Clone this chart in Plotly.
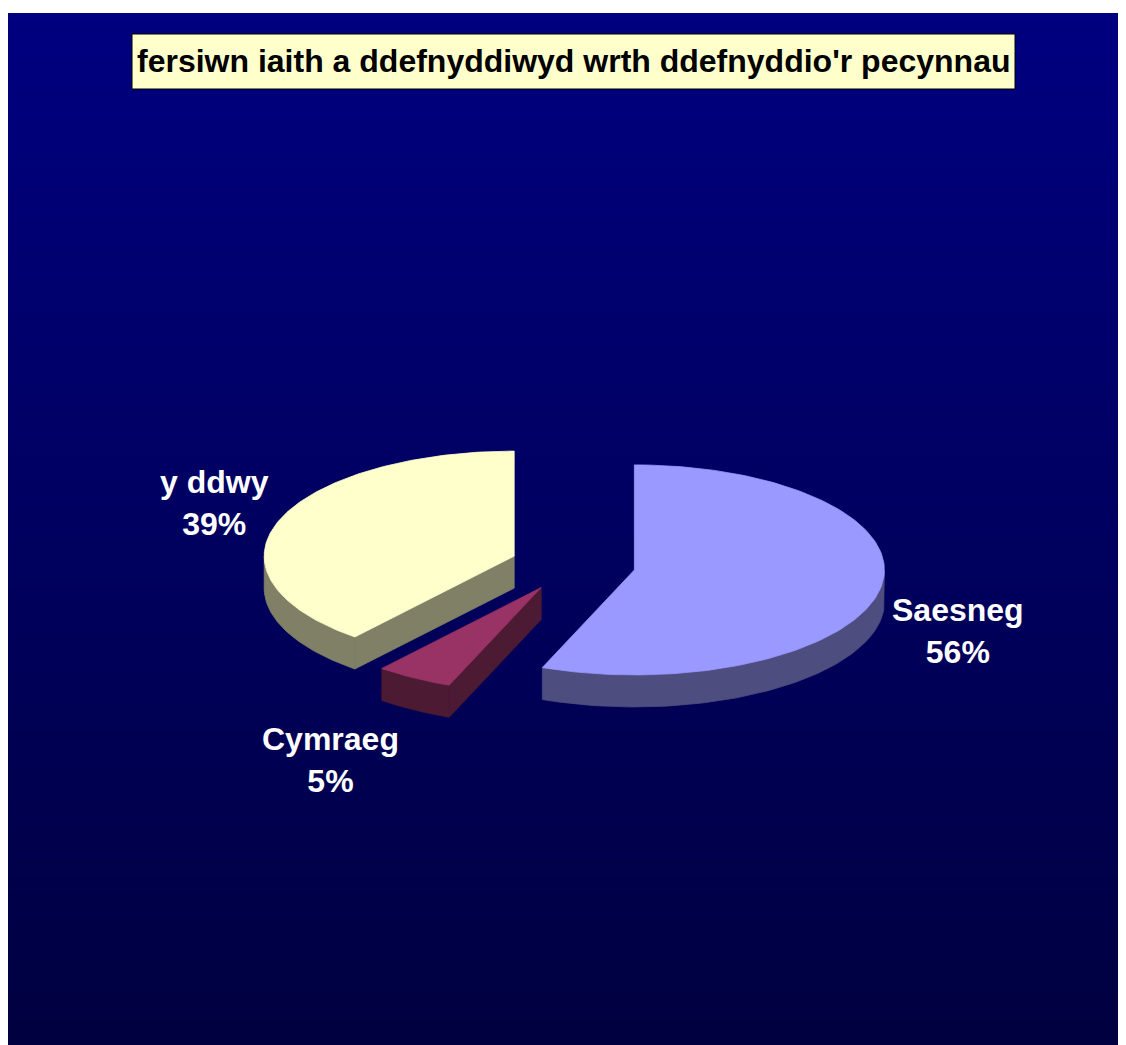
import numpy as np
import plotly.graph_objects as go

# slice data, clockwise from 12 o'clock
labels = ["Saesneg", "Cymraeg", "y ddwy"]
values = [56, 5, 39]
title_text = "fersiwn iaith a ddefnyddiwyd wrth ddefnyddio'r pecynnau"

top_colors = ["#9999FF", "#993366", "#FFFFCC"]
side_colors = ["#4D4D80", "#4D1A33", "#808066"]

# 3D pie geometry (radius = 1 unit)
TILT = 0.42
DEPTH = 0.128
EXPLODE = 0.25
PX = 250.0  # pixels per unit

# page offset from the default body margin
OFF = 8
W, H = 1110, 1037
M_L, M_R, M_T, M_B = 0, 0, 5, 0
CX_PX, CY_PX = 573, 565  # pie centre on the page

left = OFF + M_L
right = OFF + W - M_R
top = OFF + M_T
bottom = OFF + H - M_B
x_range = [-(CX_PX - left) / PX, (right - CX_PX) / PX]
y_range = [-(bottom - CY_PX) / PX, (CY_PX - top) / PX]


def px_x(p):
    return (p - left) / (right - left)


def px_y(p):
    return (bottom - p) / (bottom - top)


fig = go.Figure()

# gradient background (navy fading to dark towards the page bottom)
grad_lo = -(1045 - CY_PX) / PX
bg_y = np.linspace(y_range[0] - 0.2, y_range[1] + 0.2, 80)
bg_z = [[v, v] for v in bg_y]
fig.add_trace(go.Heatmap(
    x=[x_range[0] - 0.5, x_range[1] + 0.5], y=bg_y, z=bg_z,
    zmin=grad_lo, zmax=y_range[1],
    colorscale=[[0, "#000040"], [1, "#000080"]],
    showscale=False, zsmooth="best", hoverinfo="skip",
))


def arc(ox, oy, a0, a1, dz=0.0, n=80):
    a = np.radians(np.linspace(a0, a1, n))
    return ox + np.cos(a), oy + TILT * np.sin(a) - dz


def poly(xs, ys, color, name):
    fig.add_trace(go.Scatter(
        x=xs, y=ys, mode="lines", fill="toself", fillcolor=color,
        line=dict(color=color, width=0.8), hoverinfo="skip",
        showlegend=False, name=name,
    ))


total = float(sum(values))
bounds = []
cum = 0.0
for v in values:
    hi = 90 - 360 * cum / total
    cum += v
    lo = 90 - 360 * cum / total
    bounds.append((lo, hi))

# draw back slices first
order = [2, 0, 1]
for i in order:
    lo, hi = bounds[i]
    mid = np.radians((lo + hi) / 2)
    ox = EXPLODE * np.cos(mid)
    oy = EXPLODE * TILT * np.sin(mid)

    # radial walls facing the viewer
    for ang, visible in ((lo, np.cos(np.radians(lo)) > 1e-6),
                         (hi, np.cos(np.radians(hi)) < -1e-6)):
        if visible:
            rx = ox + np.cos(np.radians(ang))
            ry = oy + TILT * np.sin(np.radians(ang))
            poly([ox, rx, rx, ox, ox],
                 [oy, ry, ry - DEPTH, oy - DEPTH, oy],
                 side_colors[i], labels[i])

    # curved front wall (where sin < 0)
    for k in range(-2, 2):
        a0 = max(lo, -180 + 360 * k)
        a1 = min(hi, 360 * k)
        if a1 > a0:
            tx, ty = arc(ox, oy, a0, a1)
            bx, by = arc(ox, oy, a1, a0, DEPTH)
            poly(np.r_[tx, bx, tx[:1]], np.r_[ty, by, ty[:1]],
                 side_colors[i], labels[i])

    # top face
    tx, ty = arc(ox, oy, lo, hi, n=160)
    poly(np.r_[ox, tx, ox], np.r_[oy, ty, oy], top_colors[i], labels[i])

# data labels
label_pos = {"Saesneg": (1.54, -0.264), "Cymraeg": (-0.972, -0.78),
             "y ddwy": (-1.436, 0.248)}
for lab, v in zip(labels, values):
    lx, ly = label_pos[lab]
    fig.add_annotation(
        x=lx, y=ly, xref="x", yref="y", showarrow=False,
        text=f"{lab}<br>{v / total:.0%}",
        font=dict(family="Liberation Sans, Arial", size=32, color="white",
                  weight="bold"),
        align="center",
    )

# title box
fig.add_shape(
    type="rect", xref="paper", yref="paper",
    x0=px_x(132), x1=px_x(1015), y0=px_y(89), y1=px_y(34),
    fillcolor="#FFFFCC", line=dict(color="#000000", width=1), layer="above",
)
fig.add_annotation(
    x=px_x(573.5), y=px_y(61.5),
    xref="paper", yref="paper", xanchor="center", yanchor="middle",
    showarrow=False, text=title_text,
    font=dict(family="Liberation Sans, Arial", size=32, color="black",
              weight="bold"),
)

fig.update_layout(
    width=W, height=H,
    margin=dict(l=M_L, r=M_R, t=M_T, b=M_B),
    paper_bgcolor="white", plot_bgcolor="#000060",
    xaxis=dict(range=x_range, visible=False, fixedrange=True),
    yaxis=dict(range=y_range, visible=False, fixedrange=True),
    showlegend=False,
)

fig.write_html("out.html")
